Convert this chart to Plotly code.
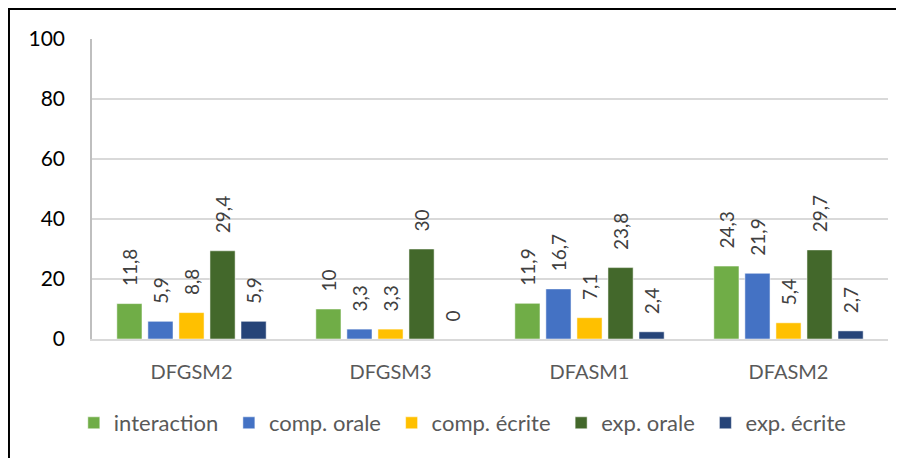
import plotly.graph_objects as go

# données
categories = ["DFGSM2", "DFGSM3", "DFASM1", "DFASM2"]
series_names = ["interaction", "comp. orale", "comp. écrite", "exp. orale", "exp. écrite"]
interaction = [11.8, 10, 11.9, 24.3]
comp_orale = [5.9, 3.3, 16.7, 21.9]
comp_ecrite = [8.8, 3.3, 7.1, 5.4]
exp_orale = [29.4, 30, 23.8, 29.7]
exp_ecrite = [5.9, 0, 2.4, 2.7]
y_ticks = [0, 20, 40, 60, 80, 100]

colors = ["#70AD47", "#4472C4", "#FFC000", "#43682B", "#264478"]
all_values = [interaction, comp_orale, comp_ecrite, exp_orale, exp_ecrite]

FONT = "Lato, 'Open Sans', sans-serif"
PAD = "\u00a0\u00a0\u00a0"  # espace entre la barre et l'étiquette

fig = go.Figure()
for name, vals, col in zip(series_names, all_values, colors):
    fig.add_trace(go.Bar(
        x=categories,
        y=vals,
        name=name + "\u00a0",  # un peu plus d'espace dans la légende
        marker=dict(color=col, line=dict(color="rgba(255,255,255,0.5)", width=1)),
        text=[PAD + str(v).replace(".", ",") for v in vals],
        textposition="outside",
        textangle=-90,
        constraintext="none",
        textfont=dict(family=FONT, size=19, color="#404040"),
        cliponaxis=False,
        hoverinfo="skip",
    ))

# la page ajoute 8 px de marge autour du graphique
fig.update_layout(
    width=904, height=458,
    barmode="group",
    bargap=0.22,
    bargroupgap=0.19,
    plot_bgcolor="white",
    paper_bgcolor="white",
    margin=dict(l=84, r=24, t=31, b=127),
    font=dict(family=FONT),
    showlegend=True,
    legend=dict(
        orientation="h",
        x=0.469, xanchor="center",
        y=-0.21, yanchor="top",
        font=dict(family=FONT, size=22, color="#595959"),
        itemwidth=30,
        traceorder="normal",
    ),
)

fig.update_yaxes(
    range=[0, 100],
    tickvals=y_ticks,
    showgrid=True,
    gridcolor="#d9d9d9",
    gridwidth=1.5,
    zeroline=False,
    showline=True,
    linecolor="#bfbfbf",
    linewidth=1.5,
    ticks="outside",
    ticklen=21,
    tickcolor="rgba(0,0,0,0)",
    tickfont=dict(family=FONT, size=21, color="#000000"),
)
fig.update_xaxes(
    showline=True,
    linecolor="#d9d9d9",
    linewidth=1.5,
    ticks="outside",
    ticklen=14,
    tickcolor="rgba(0,0,0,0)",
    tickfont=dict(family=FONT, size=20, color="#595959"),
)

# cadre noir autour du graphique
fig.add_shape(
    type="rect", xref="paper", yref="paper",
    x0=-0.1043, x1=1.05, y0=-0.6, y1=1.1,
    line=dict(color="black", width=2),
    fillcolor="rgba(0,0,0,0)",
    layer="above",
)

fig.write_html("out.html")
